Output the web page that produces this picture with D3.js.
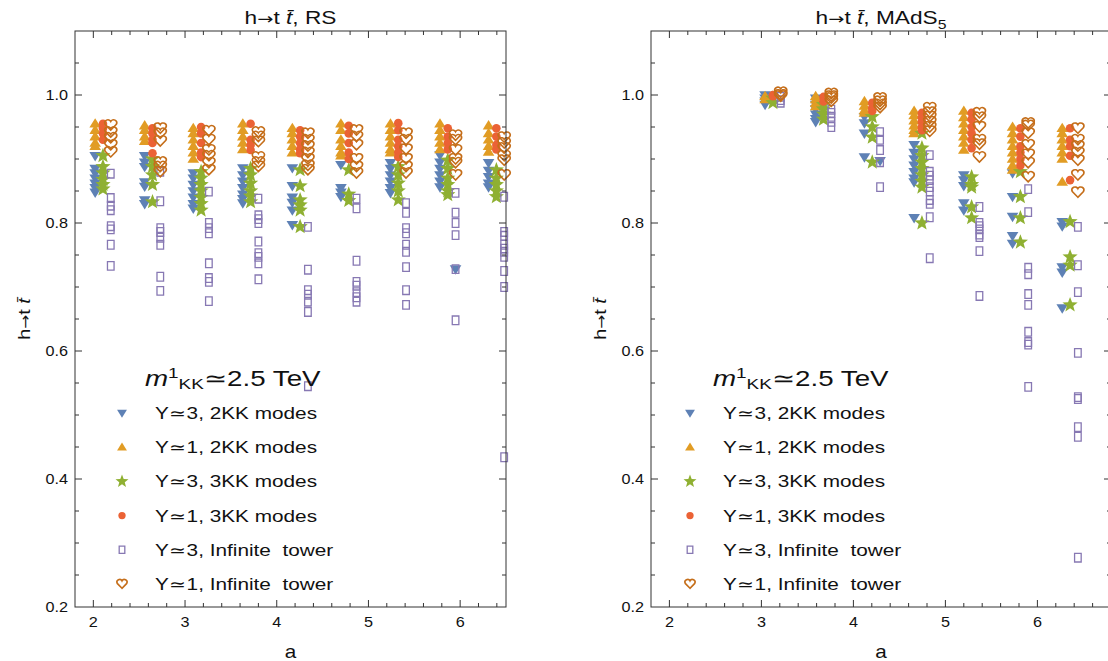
<!DOCTYPE html>
<html>
<head>
<meta charset="utf-8">
<script src="https://cdn.jsdelivr.net/npm/d3@7"></script>
<style>
  body { margin: 0; background: #fff; }
  text { font-family: "Liberation Sans", Arial, sans-serif; fill: #111; white-space: pre; }
</style>
</head>
<body>
<script>
const width = 1108;
const height = 661;

// tick values
const xTicks = [2, 3, 4, 5, 6];
const yTicks = [0.2, 0.4, 0.6, 0.8, 1.0];

// legend labels
const seriesLabels = ['Y\u22433, 2KK modes', 'Y\u22431, 2KK modes', 'Y\u22433, 3KK modes',
    'Y\u22431, 3KK modes', 'Y\u22433, Infinite  tower', 'Y\u22431, Infinite  tower'];
const seriesColors = ['#5E81B5', '#E19C24', '#8FB032', '#EB6235', '#8778B3', '#C56E1A'];
// x shift of each series inside a cluster
const seriesShift = [0, 0, 0.085, 0.085, 0.17, 0.17];

// RS panel: cluster positions and values per cluster
const rsA = [2.02, 2.56, 3.09, 3.63, 4.17, 4.70, 5.24, 5.78, 6.31];
const rsDown = [
    [0.905, 0.885, 0.878, 0.87, 0.862, 0.855, 0.848],
    [0.905, 0.895, 0.888, 0.864, 0.857, 0.836, 0.83],
    [0.878, 0.87, 0.86, 0.85, 0.84, 0.83, 0.823],
    [0.886, 0.875, 0.865, 0.855, 0.845, 0.838, 0.831],
    [0.886, 0.858, 0.84, 0.832, 0.82, 0.797],
    [0.891, 0.855, 0.848, 0.841],
    [0.894, 0.885, 0.875, 0.865, 0.855, 0.847],
    [0.906, 0.895, 0.885, 0.875, 0.865, 0.856],
    [0.894, 0.882, 0.872, 0.862, 0.856]
];
const rsUp = [
    [0.955, 0.945, 0.935, 0.925, 0.92],
    [0.952, 0.945, 0.935, 0.928],
    [0.948, 0.94, 0.93, 0.92, 0.91, 0.9],
    [0.955, 0.945, 0.935, 0.925, 0.915],
    [0.948, 0.94, 0.93, 0.92, 0.91],
    [0.955, 0.945, 0.93, 0.92, 0.91, 0.905],
    [0.955, 0.945, 0.935, 0.925, 0.915, 0.91],
    [0.955, 0.945, 0.935, 0.925, 0.915],
    [0.952, 0.94, 0.93, 0.92, 0.911]
];
const rsStar = [
    [0.905, 0.888, 0.878, 0.868, 0.86, 0.853],
    [0.9, 0.888, 0.875, 0.86, 0.833],
    [0.88, 0.87, 0.86, 0.85, 0.84, 0.83, 0.82],
    [0.885, 0.875, 0.862, 0.85, 0.842, 0.833],
    [0.883, 0.858, 0.836, 0.828, 0.82, 0.794],
    [0.883, 0.845, 0.835],
    [0.888, 0.875, 0.862, 0.85, 0.836],
    [0.898, 0.885, 0.87, 0.86, 0.85, 0.844],
    [0.883, 0.87, 0.86, 0.85, 0.841]
];
const rsDot = [
    [0.955, 0.948, 0.94, 0.93],
    [0.948, 0.94, 0.93, 0.925, 0.909],
    [0.95, 0.94, 0.925, 0.91, 0.903],
    [0.955, 0.93, 0.922, 0.914],
    [0.945, 0.935, 0.925, 0.915, 0.909],
    [0.952, 0.94, 0.925, 0.91, 0.9],
    [0.956, 0.945, 0.93, 0.92, 0.91, 0.903],
    [0.948, 0.935, 0.925, 0.915],
    [0.948, 0.935, 0.922, 0.915]
];
const rsSquare = [
    [0.877, 0.839, 0.827, 0.82, 0.795, 0.79, 0.766, 0.733],
    [0.88, 0.834, 0.792, 0.786, 0.777, 0.766, 0.716, 0.694],
    [0.849, 0.8, 0.792, 0.784, 0.737, 0.714, 0.708, 0.678],
    [0.838, 0.812, 0.806, 0.8, 0.771, 0.753, 0.747, 0.737, 0.712],
    [0.794, 0.727, 0.695, 0.688, 0.677, 0.661, 0.545],
    [0.838, 0.823, 0.741, 0.708, 0.702, 0.692, 0.684, 0.677],
    [0.831, 0.816, 0.792, 0.784, 0.766, 0.755, 0.731, 0.695, 0.672],
    [0.847, 0.816, 0.8, 0.781, 0.728, 0.648],
    [0.841, 0.786, 0.78, 0.766, 0.76, 0.755, 0.747, 0.725, 0.7, 0.434]
];
const rsHeart = [
    [0.953, 0.942, 0.933, 0.922, 0.911],
    [0.948, 0.94, 0.928, 0.895, 0.888, 0.88],
    [0.944, 0.93, 0.914, 0.905, 0.894, 0.883],
    [0.942, 0.935, 0.927, 0.903, 0.895, 0.888],
    [0.94, 0.93, 0.92, 0.91, 0.9, 0.89, 0.883],
    [0.945, 0.935, 0.922, 0.9, 0.888, 0.878],
    [0.94, 0.93, 0.915, 0.9, 0.888, 0.878],
    [0.937, 0.93, 0.914, 0.9, 0.894, 0.875],
    [0.934, 0.925, 0.917, 0.905, 0.898, 0.875]
];
const rsStrayDown = [[5.95, 0.728]];

// MAdS5 panel
const mdA = [3.04, 3.59, 4.12, 4.66, 5.20, 5.73, 6.27];
const mdDown = [
    [1.0, 0.995, 0.99, 0.985],
    [0.995, 0.985, 0.978, 0.97, 0.963, 0.958],
    [0.966, 0.956, 0.94, 0.903],
    [0.922, 0.91, 0.9, 0.89, 0.88, 0.87, 0.864, 0.808],
    [0.875, 0.867, 0.858, 0.831, 0.82],
    [0.878, 0.841, 0.81, 0.78, 0.768],
    [0.802, 0.795, 0.731, 0.723, 0.667]
];
const mdUp = [
    [0.998, 0.993],
    [0.998, 0.993, 0.987, 0.982],
    [0.99, 0.983, 0.976, 0.972],
    [0.975, 0.968, 0.96, 0.952, 0.945, 0.94],
    [0.975, 0.965, 0.955, 0.945, 0.935, 0.925, 0.914],
    [0.95, 0.94, 0.93, 0.92, 0.91, 0.9, 0.89, 0.883],
    [0.948, 0.94, 0.93, 0.92, 0.91, 0.9, 0.864]
];
const mdStar = [
    [0.995, 0.988],
    [0.985, 0.978, 0.97, 0.962],
    [0.966, 0.95, 0.934, 0.895],
    [0.94, 0.917, 0.905, 0.895, 0.885, 0.875, 0.865, 0.856, 0.8],
    [0.872, 0.86, 0.856, 0.825, 0.808],
    [0.88, 0.841, 0.808, 0.77],
    [0.802, 0.747, 0.734, 0.672]
];
const mdDot = [
    [1.0, 0.998],
    [0.997, 0.99],
    [0.988, 0.98, 0.975],
    [0.972, 0.965, 0.958, 0.95, 0.945],
    [0.972, 0.962, 0.95, 0.94, 0.93, 0.917],
    [0.948, 0.935, 0.92, 0.91, 0.9, 0.89],
    [0.948, 0.93, 0.92, 0.905, 0.867]
];
const mdSquare = [
    [0.997, 0.992, 0.988],
    [0.977, 0.972, 0.966, 0.958, 0.95],
    [0.942, 0.93, 0.914, 0.895, 0.856],
    [0.906, 0.88, 0.874, 0.867, 0.856, 0.849, 0.836, 0.83, 0.809, 0.745],
    [0.825, 0.8, 0.795, 0.79, 0.782, 0.778, 0.756, 0.686],
    [0.853, 0.817, 0.73, 0.72, 0.689, 0.672, 0.63, 0.614, 0.61, 0.544],
    [0.794, 0.734, 0.692, 0.597, 0.528, 0.525, 0.481, 0.466, 0.277]
];
const mdHeart = [
    [1.004, 1.0, 0.998],
    [1.002, 0.998, 0.995, 0.99],
    [0.995, 0.99, 0.985, 0.98],
    [0.98, 0.973, 0.966, 0.958, 0.95, 0.943],
    [0.972, 0.965, 0.95, 0.93, 0.923, 0.903],
    [0.956, 0.952, 0.94, 0.922, 0.907, 0.894, 0.872],
    [0.948, 0.93, 0.92, 0.91, 0.898, 0.875, 0.848]
];
const mdStrayDown = [[4.29, 0.897]];

// marker shapes
const starPath = (R, r) => {
    let p = [];
    for (let i = 0; i < 10; i++) {
        const ang = -Math.PI / 2 + i * Math.PI / 5;
        const rad = i % 2 ? r : R;
        p.push([rad * Math.cos(ang), rad * Math.sin(ang)]);
    }
    return 'M' + p.map(d => d[0].toFixed(2) + ',' + d[1].toFixed(2)).join('L') + 'Z';
};
const shapes = {
    down: s => `M${-5.8 * s},${-3.8 * s}L${5.8 * s},${-3.8 * s}L0,${5.6 * s}Z`,
    up: s => `M${-5.8 * s},${3.8 * s}L${5.8 * s},${3.8 * s}L0,${-5.6 * s}Z`,
    star: s => starPath(8 * s, 3.4 * s),
    dot: s => d3.arc()({innerRadius: 0, outerRadius: 4.3 * s, startAngle: 0, endAngle: 2 * Math.PI}),
    square: s => `M${-3.3 * s},${-4.3 * s}h${6.6 * s}v${8.6 * s}h${-6.6 * s}Z`,
    heart: s => `M0,${5 * s}L${-5.6 * s},${-0.7 * s}A${3 * s},${3 * s} 0 0 1 0,${-3.6 * s}A${3 * s},${3 * s} 0 0 1 ${5.6 * s},${-0.7 * s}Z`
};
const shapeNames = ['down', 'up', 'star', 'dot', 'square', 'heart'];
const hollow = [false, false, false, false, true, true];

// text in the original export is wider than Liberation Sans
const stretch = 1.26;

const svg = d3.select('body').append('svg')
    .attr('width', width)
    .attr('height', height);

const yScale = d3.scaleLinear().domain([0.2, 1.1]).range([607, 31]);

function drawMarker(g, k, x, y, s) {
    const p = g.append('path')
        .attr('d', shapes[shapeNames[k]](s))
        .attr('transform', `translate(${x},${y})`);
    if (hollow[k]) {
        p.attr('fill', 'none')
            .attr('stroke', seriesColors[k])
            .attr('stroke-width', k === 5 ? 1.6 : 1.3);
    } else {
        p.attr('fill', seriesColors[k]);
    }
}

// h→t t̄ label
function hToTT(sel) {
    sel.append('tspan').text('h');
    sel.append('tspan').style('font-family', '"DejaVu Sans"').style('font-size', '0.85em').text('\u2192');
    sel.append('tspan').text('t ');
    sel.append('tspan').style('font-style', 'italic').text('t\u0304');
}

function drawPanel(opt) {
    const xScale = d3.scaleLinear().domain(opt.domain).range([opt.left, opt.right]);
    const g = svg.append('g');
    const top = yScale.range()[1], bottom = yScale.range()[0];

    // points
    const marks = g.append('g');
    opt.series.forEach((ser, k) => {
        ser.forEach((vals, ci) => {
            vals.forEach(v => {
                drawMarker(marks, k, xScale(opt.a[ci] + seriesShift[k]), yScale(v), 1);
            });
        });
        if (k === 0) {
            opt.stray.forEach(d => drawMarker(marks, 0, xScale(d[0]), yScale(d[1]), 1));
        }
    });

    // frame
    g.append('rect')
        .attr('x', opt.left).attr('y', top)
        .attr('width', opt.right - opt.left).attr('height', bottom - top)
        .attr('fill', 'none').attr('stroke', '#333').attr('stroke-width', 1);

    // ticks (inward, on all four sides)
    const xMinor = d3.range(2, opt.domain[1] + 1e-9, 0.2).map(d => +d.toFixed(2));
    xMinor.forEach(t => {
        const major = Math.abs(t - Math.round(t)) < 1e-6;
        const len = major ? 7 : 4;
        const x = xScale(t);
        g.append('line').attr('x1', x).attr('x2', x).attr('y1', bottom).attr('y2', bottom - len)
            .attr('stroke', '#333');
        g.append('line').attr('x1', x).attr('x2', x).attr('y1', top).attr('y2', top + len)
            .attr('stroke', '#333');
    });
    const yMinor = d3.range(0.25, 1.1, 0.05).map(d => +d.toFixed(2));
    yMinor.forEach(t => {
        const major = Math.abs(t * 5 - Math.round(t * 5)) < 1e-6;
        const len = major ? 7 : 4;
        const y = yScale(t);
        g.append('line').attr('x1', opt.left).attr('x2', opt.left + len).attr('y1', y).attr('y2', y)
            .attr('stroke', '#333');
        g.append('line').attr('x1', opt.right).attr('x2', opt.right - len).attr('y1', y).attr('y2', y)
            .attr('stroke', '#333');
    });

    // tick labels
    g.selectAll('.xl').data(xTicks).enter().append('text')
        .attr('transform', d => `translate(${xScale(d)},627) scale(1.08,1)`)
        .attr('text-anchor', 'middle').style('font-size', '15px')
        .text(d => d);
    g.selectAll('.yl').data(yTicks).enter().append('text')
        .attr('transform', d => `translate(${opt.left - 7},${yScale(d) + 5}) scale(1.08,1)`)
        .attr('text-anchor', 'end').style('font-size', '15px')
        .text(d => d.toFixed(1));

    // axis labels
    g.append('text')
        .attr('transform', `translate(${(opt.left + opt.right) / 2},658) scale(1.15,1)`)
        .attr('text-anchor', 'middle').style('font-size', '18px').text('a');
    const yl = g.append('text')
        .attr('transform', `translate(${opt.left - 45},319) rotate(-90) scale(1.2,1)`)
        .attr('text-anchor', 'middle').style('font-size', '16.5px');
    hToTT(yl);

    // title
    const tt = g.append('text')
        .attr('transform', `translate(${(opt.left + opt.right) / 2},24) scale(${stretch},1)`)
        .attr('text-anchor', 'middle').style('font-size', '18px');
    hToTT(tt);
    tt.append('tspan').text(', ' + opt.title);
    if (opt.sub) {
        tt.append('tspan').attr('dy', 5).style('font-size', '12.5px').text(opt.sub);
    }

    // legend
    const lx = opt.left + opt.legendDx;
    const lt = g.append('text')
        .attr('transform', `translate(${lx + 70},386) scale(${stretch},1)`)
        .style('font-size', '22px');
    lt.append('tspan').style('font-style', 'italic').text('m');
    lt.append('tspan').attr('dy', -8).style('font-size', '15px').text('1');
    lt.append('tspan').attr('dy', 11).style('font-size', '15px').text('KK');
    lt.append('tspan').attr('dy', -3).text('\u22432.5 TeV');

    seriesLabels.forEach((lab, k) => {
        const y = 413 + k * 34.2;
        drawMarker(g, k, lx + 47, y, 0.85);
        g.append('text')
            .attr('transform', `translate(${lx + 80},${y + 6}) scale(${stretch},1)`)
            .style('font-size', '16.5px').text(lab);
    });
}

drawPanel({
    left: 75, right: 506, domain: [1.8, 6.5], legendDx: 0,
    a: rsA, series: [rsDown, rsUp, rsStar, rsDot, rsSquare, rsHeart], stray: rsStrayDown,
    title: 'RS'
});
drawPanel({
    left: 651, right: 1111, domain: [1.8, 6.8], legendDx: -8,
    a: mdA, series: [mdDown, mdUp, mdStar, mdDot, mdSquare, mdHeart], stray: mdStrayDown,
    title: 'MAdS', sub: '5'
});
</script>
</body>
</html>
